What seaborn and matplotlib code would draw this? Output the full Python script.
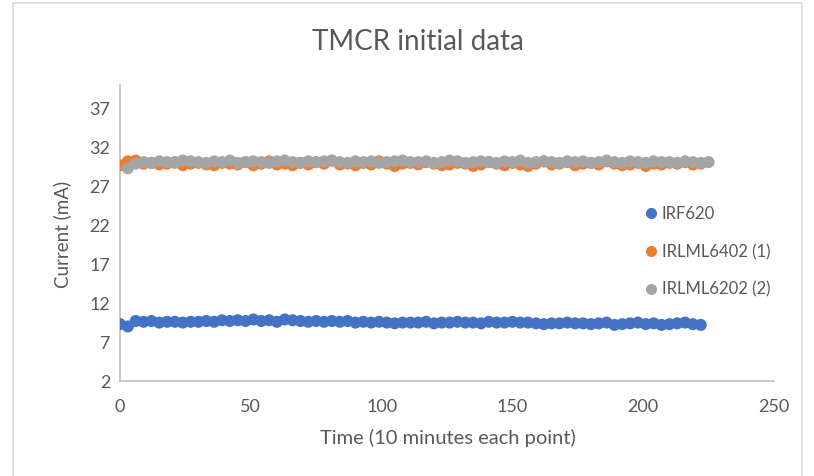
import numpy as np
import pandas as pd
import matplotlib
matplotlib.use("Agg")
import matplotlib.pyplot as plt
from matplotlib.patches import Rectangle
import seaborn as sns

# Measured current (mA), one reading every 10 minutes, plotted every 3rd sample index
irf620 = [9.3, 9.0, 9.7, 9.6, 9.7, 9.5, 9.6, 9.6, 9.5, 9.6, 9.6, 9.7, 9.6, 9.8, 9.7,
          9.8, 9.7, 9.9, 9.7, 9.8, 9.6, 9.9, 9.8, 9.7, 9.6, 9.7, 9.6, 9.7, 9.6, 9.7,
          9.5, 9.6, 9.5, 9.6, 9.5, 9.4, 9.5, 9.5, 9.5, 9.6, 9.4, 9.5, 9.5, 9.6, 9.5,
          9.5, 9.4, 9.6, 9.5, 9.5, 9.6, 9.5, 9.5, 9.4, 9.3, 9.4, 9.4, 9.5, 9.4, 9.4,
          9.3, 9.4, 9.5, 9.2, 9.3, 9.4, 9.5, 9.3, 9.4, 9.2, 9.3, 9.4, 9.5, 9.3, 9.2]
irlml6402 = [29.7, 30.2, 30.3, 29.9, 30.0, 29.8, 29.9, 30.1, 29.7, 29.9, 30.0, 29.8, 29.7,
             30.0, 29.9, 29.8, 30.1, 29.7, 29.9, 30.2, 29.8, 29.9, 29.7, 30.0, 29.8, 30.1,
             29.9, 30.3, 29.8, 29.9, 29.7, 30.0, 29.8, 30.2, 29.9, 29.6, 29.9, 30.0, 29.8,
             30.1, 29.9, 29.7, 29.8, 30.0, 29.9, 29.6, 29.8, 30.1, 29.9, 29.7, 30.0, 29.8,
             29.6, 29.9, 30.2, 29.8, 29.9, 30.1, 29.7, 29.9, 30.0, 29.8, 30.2, 29.9, 29.7,
             29.8, 30.0, 29.6, 29.9, 29.8, 30.0, 29.9, 30.1, 29.8, 29.9]
irlml6202 = [29.3, 29.9, 30.1, 30.0, 30.2, 30.1, 30.0, 30.3, 30.2, 30.1, 30.0, 30.2, 30.1,
             30.3, 30.0, 30.1, 30.2, 30.1, 30.0, 30.2, 30.3, 30.1, 30.0, 30.2, 30.1, 30.2,
             30.3, 30.1, 30.0, 30.2, 30.1, 30.2, 30.0, 30.1, 30.2, 30.3, 30.1, 30.1, 30.2,
             30.0, 30.1, 30.3, 30.2, 30.0, 30.1, 30.2, 30.1, 30.0, 30.2, 30.1, 30.3, 30.0,
             30.1, 30.2, 30.1, 30.0, 30.2, 30.1, 30.2, 30.0, 30.1, 30.3, 30.1, 30.0, 30.2,
             30.1, 30.0, 30.2, 30.1, 30.1, 30.0, 30.2, 30.1, 30.0, 30.1]

series_names = ["IRF620", "IRLML6402 (1)", "IRLML6202 (2)"]
series_values = [irf620, irlml6402, irlml6202]
series_start = [0, 0, 3]
series_step = 3
colors = ["#4472C4", "#ED7D31", "#A5A5A5"]

frames = []
for name, vals, start in zip(series_names, series_values, series_start):
    t = start + series_step * np.arange(len(vals))
    frames.append(pd.DataFrame({"time": t, "current": vals, "device": name}))
df = pd.concat(frames, ignore_index=True)

sns.set_theme(style="white")
plt.rcParams["font.family"] = ["Lato", "DejaVu Sans"]
text_color = "#595959"
axis_color = "#BFBFBF"

W, H = 814, 476
fig = plt.figure(figsize=(W / 100, H / 100), dpi=100)
ax = fig.add_axes([120 / W, 1 - 381 / H, (774 - 120) / W, (381 - 85) / H])

sns.scatterplot(data=df, x="time", y="current", hue="device",
                hue_order=series_names, palette=colors,
                s=75, linewidth=0, ax=ax, legend=False, zorder=3)

ax.set_xlim(0, 250)
ax.set_ylim(2, 40)
ax.set_xticks([0, 50, 100, 150, 200, 250])
ax.set_yticks([2, 7, 12, 17, 22, 27, 32, 37])
ax.tick_params(axis="both", length=0, labelsize=13, colors=text_color)
ax.tick_params(axis="x", pad=13)
ax.tick_params(axis="y", pad=7)
for side in ["top", "right"]:
    ax.spines[side].set_visible(False)
for side in ["left", "bottom"]:
    ax.spines[side].set_color(axis_color)
    ax.spines[side].set_linewidth(1.2)

ax.set_xlabel("")
ax.set_ylabel("")
fig.text(448 / W, 1 - 438 / H, "Time (10 minutes each point)", ha="center", va="center",
         fontsize=14.5, color=text_color)
fig.text(62 / W, 1 - 234 / H, "Current (mA)", ha="center", va="center",
         rotation=90, fontsize=13.5, color=text_color)
fig.text(418 / W, 1 - 42 / H, "TMCR initial data", ha="center", va="center",
         fontsize=20, color=text_color)

# Legend entries placed on the right of the plot
handles = [plt.Line2D([], [], marker="o", linestyle="", markersize=8,
                      markerfacecolor=c, markeredgewidth=0) for c in colors]
leg = ax.legend(handles, series_names, loc="center left",
                bbox_to_anchor=((636 - 120) / (774 - 120), (381 - 252) / (381 - 85)),
                frameon=False, fontsize=12, handletextpad=0.15, labelspacing=1.3,
                handlelength=1.0, borderaxespad=0)
for t in leg.get_texts():
    t.set_color(text_color)

# Chart-area border
fig.patches.append(Rectangle((13 / W, -0.02), (802 - 13) / W, 1.02 - 3 / H,
                             transform=fig.transFigure, fill=False,
                             edgecolor="#D9D9D9", linewidth=1.2))

fig.savefig("out.png", dpi=100)
